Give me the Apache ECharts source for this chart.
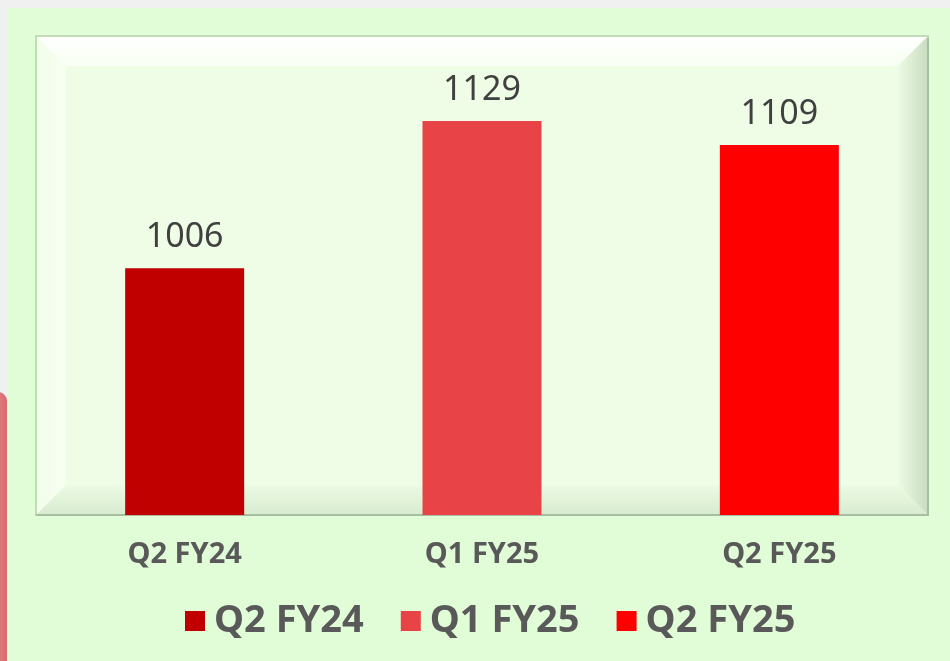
<!DOCTYPE html>
<html>
<head>
<meta charset="utf-8">
<script src="https://cdn.jsdelivr.net/npm/echarts@6/dist/echarts.min.js"></script>
<style>
  html, body { margin: 0; padding: 0; background: #f0f0f0; }
  #chart { width: 950px; height: 661px; }
</style>
</head>
<body>
<div id="chart"></div>
<script>
// data
const categories = ['Q2 FY24', 'Q1 FY25', 'Q2 FY25']
const values = [1006, 1129, 1109]
const barColors = ['#c00000', '#e84448', '#ff0000']

const chart = echarts.init(document.getElementById('chart'), null, { renderer: 'canvas' })

// plot frame (bevelled box behind the bars)
const L = 36, T = 36, R = 928, B = 515, bv = 30

const vGrad = (a, b) => new echarts.graphic.LinearGradient(0, 0, 0, 1, [
  { offset: 0, color: a }, { offset: 1, color: b }
])
const hGrad = (a, b) => new echarts.graphic.LinearGradient(0, 0, 1, 0, [
  { offset: 0, color: a }, { offset: 1, color: b }
])

const decor = [
  // green page background
  { type: 'rect', shape: { x: 7, y: 8, width: 943, height: 653 }, style: { fill: '#e1fdd8' }, z: -10 },
  // pink shape at the left edge
  { type: 'rect', shape: { x: -12, y: 392, width: 19, height: 300, r: 9 },
    style: { fill: hGrad('#e59090', '#d86a70') }, z: -9 },
  // face
  { type: 'rect', shape: { x: L, y: T, width: R - L, height: B - T }, style: { fill: '#effde6' }, z: -8 },
  // top bevel
  { type: 'polygon', shape: { points: [[L, T], [R, T], [R - bv, T + bv], [L + bv, T + bv]] },
    style: { fill: vGrad('#ffffff', '#f8fff3') }, z: -7 },
  // left bevel
  { type: 'polygon', shape: { points: [[L, T], [L + bv, T + bv], [L + bv, B - bv], [L, B]] },
    style: { fill: hGrad('#f2fdea', '#f7fff2') }, z: -7 },
  // right bevel
  { type: 'polygon', shape: { points: [[R, T], [R, B], [R - bv, B - bv], [R - bv, T + bv]] },
    style: { fill: hGrad('#ecfbe4', '#c9dcc0') }, z: -7 },
  // bottom bevel
  { type: 'polygon', shape: { points: [[L, B], [R, B], [R - bv, B - bv], [L + bv, B - bv]] },
    style: { fill: vGrad('#ecfbe4', '#d7ebcf') }, z: -7 },
  // outline
  { type: 'rect', shape: { x: L, y: T, width: R - L, height: B - T },
    style: { fill: null, stroke: '#c2dcb8', lineWidth: 2 }, z: -6 },
  { type: 'polyline', shape: { points: [[R, T + 2], [R, B], [L, B]] },
    style: { fill: null, stroke: '#a9bda2', lineWidth: 2 }, z: -6 }
]

const series = categories.map((name, i) => ({
  name: name,
  type: 'bar',
  barWidth: 119,
  barGap: '-100%',
  data: values.map((v, j) => (j === i ? v : null)),
  itemStyle: { color: barColors[i] },
  label: {
    show: true,
    position: 'top',
    distance: 14,
    fontSize: 34,
    fontFamily: 'Noto Sans',
    color: '#404040'
  }
}))

const option = {
  backgroundColor: '#f0f0f0',
  animation: false,
  graphic: decor,
  grid: { left: L, right: 950 - R, top: T, bottom: 661 - B },
  xAxis: {
    type: 'category',
    data: categories,
    axisLine: { show: false },
    axisTick: { show: false },
    axisLabel: {
      margin: 25,
      fontSize: 29,
      fontWeight: 'bold',
      fontFamily: 'Noto Sans',
      color: '#595959'
    }
  },
  yAxis: {
    type: 'value',
    min: 800,
    max: 1200,
    show: false,
    splitLine: { show: false }
  },
  legend: {
    top: 597,
    left: 180,
    padding: 5,
    icon: 'rect',
    itemWidth: 20,
    itemHeight: 20,
    itemGap: 37,
    textStyle: {
      fontSize: 38,
      fontWeight: 'bold',
      fontFamily: 'Noto Sans',
      color: '#595959',
      padding: [0, 0, 0, 4]
    }
  },
  series: series
}

chart.setOption(option)
</script>
</body>
</html>
